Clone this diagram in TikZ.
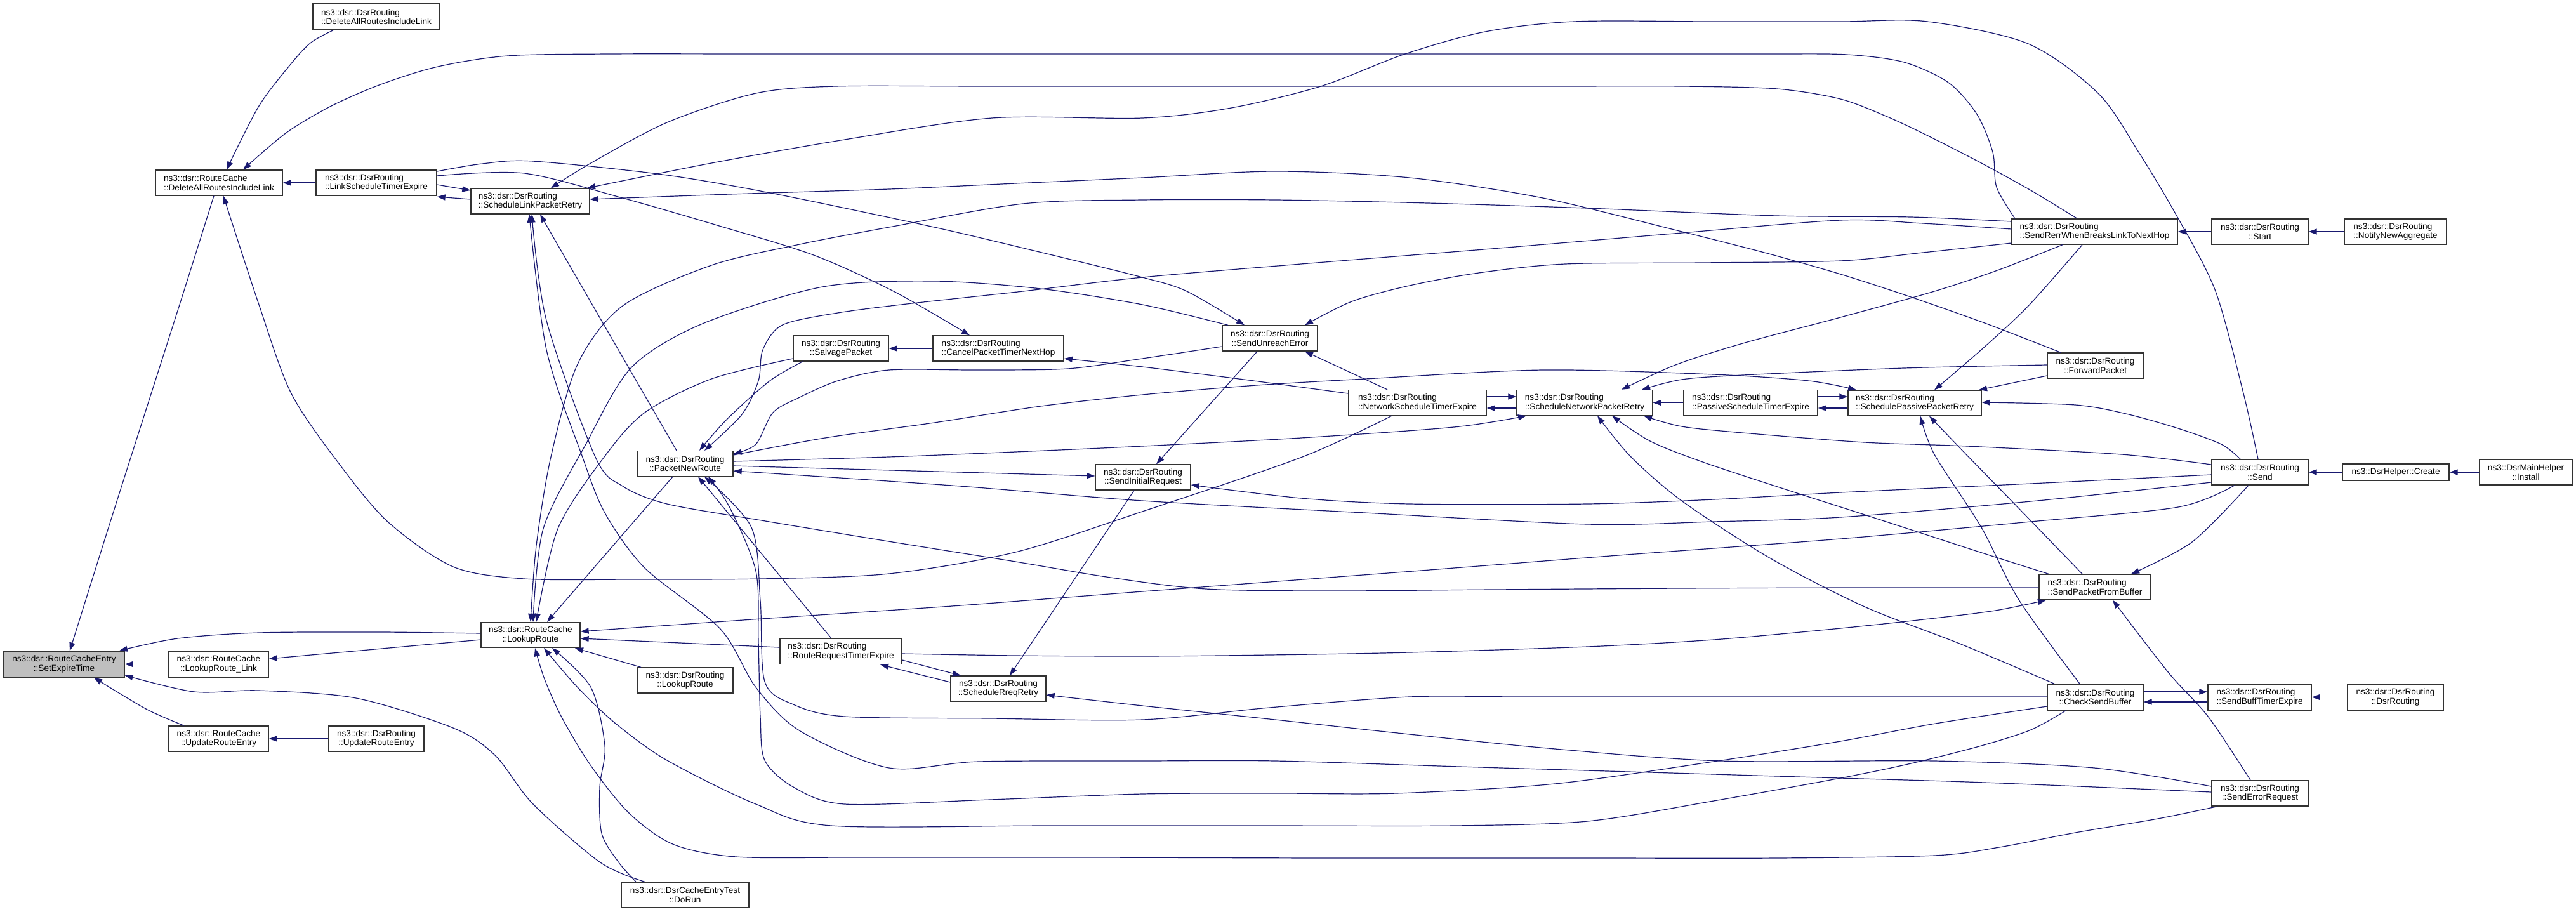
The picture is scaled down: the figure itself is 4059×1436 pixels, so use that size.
\documentclass[tikz,border=0pt]{standalone}
\usepackage{fontspec}
\setmainfont{Liberation Sans}
\usetikzlibrary{arrows.meta}
\definecolor{edgec}{RGB}{25,25,112}
\begin{document}
\begin{tikzpicture}[x=1pt,y=-1pt,
  box/.style={draw=black!80, line width=1.3pt, fill=white, inner sep=0pt,
    font=\fontsize{13.6}{14.7}\selectfont, minimum height=40pt},
  e/.style={draw=edgec, line width=1.2pt, -{Triangle[length=13pt,width=9pt]}},
  sm/.style={smooth, tension=0.5}]
\useasboundingbox[fill=white] (0,0) rectangle (4059,1436);

% nodes
\node[box, fill=gray!50, minimum width=190pt, minimum height=41pt, align=center] (A) at (101,1046.5) {ns3::dsr::RouteCacheEntry\\::SetExpireTime};
\node[box, minimum width=200pt, align=left] (B) at (345,288) {ns3::dsr::RouteCache\\::DeleteAllRoutesIncludeLink};
\node[box, minimum width=157pt, minimum height=41pt, align=center] (C) at (344.5,1046.5) {ns3::dsr::RouteCache\\::LookupRoute\_Link};
\node[box, minimum width=157pt, align=center] (D) at (344.5,1164) {ns3::dsr::RouteCache\\::UpdateRouteEntry};
\node[box, minimum width=200pt, minimum height=41pt, align=left] (E) at (593,26.5) {ns3::dsr::DsrRouting\\::DeleteAllRoutesIncludeLink};
\node[box, minimum width=190pt, align=left] (F) at (593,288) {ns3::dsr::DsrRouting\\::LinkScheduleTimerExpire};
\node[box, minimum width=150pt, align=center] (G) at (593,1164) {ns3::dsr::DsrRouting\\::UpdateRouteEntry};
\node[box, minimum width=187pt, align=left] (H) at (835.5,317) {ns3::dsr::DsrRouting\\::ScheduleLinkPacketRetry};
\node[box, minimum width=156pt, align=center] (I) at (836,1000.5) {ns3::dsr::RouteCache\\::LookupRoute};
\node[box, minimum width=151pt, align=center] (J) at (1079.5,730.5) {ns3::dsr::DsrRouting\\::PacketNewRoute};
\node[box, minimum width=150pt, align=center] (K) at (1325,549) {ns3::dsr::DsrRouting\\::SalvagePacket};
\node[box, minimum width=206pt, align=left] (L) at (1573,549) {ns3::dsr::DsrRouting\\::CancelPacketTimerNextHop};
\node[box, minimum width=151pt, align=center] (M) at (1079.5,1072) {ns3::dsr::DsrRouting\\::LookupRoute};
\node[box, minimum width=192pt, align=left] (N) at (1325,1026.5) {ns3::dsr::DsrRouting\\::RouteRequestTimerExpire};
\node[box, minimum width=150pt, align=center] (O) at (1573,1085) {ns3::dsr::DsrRouting\\::ScheduleRreqRetry};
\node[box, minimum width=201pt, align=center] (P) at (1079.5,1410) {ns3::dsr::DsrCacheEntryTest\\::DoRun};
\node[box, minimum width=150pt, align=center] (Q) at (1801,752) {ns3::dsr::DsrRouting\\::SendInitialRequest};
\node[box, minimum width=150pt, align=center] (R) at (2001,533) {ns3::dsr::DsrRouting\\::SendUnreachError};
\node[box, minimum width=217pt, align=left] (S) at (2233.5,634.5) {ns3::dsr::DsrRouting\\::NetworkScheduleTimerExpire};
\node[box, minimum width=214pt, align=left] (T) at (2497,634.5) {ns3::dsr::DsrRouting\\::ScheduleNetworkPacketRetry};
\node[box, minimum width=211pt, align=left] (U) at (2758.5,634.5) {ns3::dsr::DsrRouting\\::PassiveScheduleTimerExpire};
\node[box, minimum width=210pt, align=left] (V) at (3017,635) {ns3::dsr::DsrRouting\\::SchedulePassivePacketRetry};
\node[box, minimum width=261pt, align=left] (W) at (3300.5,365) {ns3::dsr::DsrRouting\\::SendRerrWhenBreaksLinkToNextHop};
\node[box, minimum width=152pt, align=center] (X) at (3561,365) {ns3::dsr::DsrRouting\\::Start};
\node[box, minimum width=161pt, align=left] (Y) at (3774.5,365) {ns3::dsr::DsrRouting\\::NotifyNewAggregate};
\node[box, minimum width=151pt, align=center] (Z) at (3301.5,576) {ns3::dsr::DsrRouting\\::ForwardPacket};
\node[box, minimum width=152pt, align=center] (AA) at (3561,744) {ns3::dsr::DsrRouting\\::Send};
\node[box, minimum width=168pt, minimum height=26pt] (AB) at (3775,744) {ns3::DsrHelper::Create};
\node[box, minimum width=146pt, align=center] (AC) at (3980,744) {ns3::DsrMainHelper\\::Install};
\node[box, minimum width=176pt, align=left] (AD) at (3301,925) {ns3::dsr::DsrRouting\\::SendPacketFromBuffer};
\node[box, minimum width=151pt, minimum height=41pt, align=center] (AE) at (3301.5,1098.5) {ns3::dsr::DsrRouting\\::CheckSendBuffer};
\node[box, minimum width=163pt, minimum height=41pt, align=left] (AF) at (3560.5,1098.5) {ns3::dsr::DsrRouting\\::SendBuffTimerExpire};
\node[box, minimum width=151pt, minimum height=41pt, align=center] (AG) at (3774.5,1098.5) {ns3::dsr::DsrRouting\\::DsrRouting};
\node[box, minimum width=152pt, align=center] (AH) at (3561,1250) {ns3::dsr::DsrRouting\\::SendErrorRequest};

% straight connectors
\draw[e] (F.west) -- (B.east);
\draw[e] (C.west) -- (A.east);
\draw[e] (G.west) -- (D.east);
\draw[e] (I.west |- 0,1008) -- (C.east |- 0,1038);
\draw[e] (H.west |- 0,314) -- (F.east |- 0,310);
\draw[e] (F.east |- 0,291) -- (H.west |- 0,300);
\draw[e] (J.north -| 1066,0) -- (H.south -| 851,0);
\draw[e] (J.south -| 1060,0) -- (I.north -| 862,0);
\draw[e] (N.west |- 0,1020) -- (I.east |- 0,1006);
\draw[e] (M.north -| 1010,0) -- (I.south -| 906,0);
\draw[e] (N.north -| 1310,0) -- (J.south -| 1100,0);
\draw[e] (J.east |- 0,734) -- (Q.west |- 0,750);
\draw[e] (L.west) -- (K.east);
\draw[e] (S.north -| 2186,0) -- (R.south -| 2056,0);
\draw[e] (R.south -| 1981,0) -- (Q.north -| 1822,0);
\draw[e] (Q.south -| 1787,0) -- (O.north -| 1591,0);
\draw[e] (N.east |- 0,1040) -- (O.north -| 1514,0);
\draw[e] (O.west |- 0,1075) -- (N.south -| 1387,0);
\draw[e] (S.east |- 0,625) -- (T.west |- 0,625);
\draw[e] (T.west |- 0,643) -- (S.east |- 0,643);
\draw[e] (U.west) -- (T.east);
\draw[e] (U.east |- 0,625) -- (V.west |- 0,625);
\draw[e] (V.west |- 0,643) -- (U.east |- 0,643);
\draw[e] (X.west) -- (W.east);
\draw[e] (Y.west) -- (X.east);
\draw[e] (AB.west) -- (AA.east);
\draw[e] (AC.west) -- (AB.east);
\draw[e] (AE.east |- 0,1090) -- (AF.west |- 0,1090);
\draw[e] (AF.west |- 0,1106) -- (AE.east |- 0,1106);
\draw[e] (AG.west) -- (AF.east);
\draw[e] (Z.west |- 0,592) -- (V.north -| 3118,0);

% curved connectors
\draw[e] plot[sm] coordinates {(B.south -| 337,0) (283,480) (184,790) (A.north -| 110,0)};
\draw[e] plot[sm] coordinates {(E.south -| 525,0) (490,67) (459,100) (408,167) (B.north -| 357,0)};
\draw[e] plot[sm] coordinates {(W.north -| 3175,0) (3146,295) (3140,240) (3115,180) (3070,130) (3000,98) (2910,86) (2790,85) (2630,85) (2400,85) (2100,85) (1800,85) (1500,85) (1200,85) (960,85) (800,88) (690,105) (600,133) (520,168) (450,210) (B.north -| 383,0)};
\draw[e] plot[sm] coordinates {(S.south -| 2193,0) (2052,720) (1800,806) (1600,870) (1401,904) (1200,912) (1000,913) (826,912) (714,893) (612,823) (536,733) (459,620) (408,480) (B.south -| 352,0)};
\draw[e] plot[sm] coordinates {(I.west |- 0,998) (600,996) (408,997) (280,1006) (A.north -| 188,0)};
\draw[e] plot[sm] coordinates {(D.north -| 290,0) (230,1117) (A.south -| 148,0)};
\draw[e] plot[sm] coordinates {(P.north -| 1016,0) (946,1359) (840,1267) (780,1190) (714,1147) (561,1100) (408,1088) (306,1090) (A.east |- 0,1064)};
\draw[e] plot[sm] coordinates {(W.north -| 3273,0) (3200,300) (3122,257) (3040,215) (2974,184) (2900,156) (2800,140) (2650,136) (2450,136) (2150,136) (1850,136) (1550,136) (1317,136) (1191,147) (1051,193) (931,257) (H.north -| 868,0)};
\draw[e] plot[sm] coordinates {(AA.north -| 3558,0) (3535,620) (3491,459) (3432,344) (3370,240) (3306,147) (3196,69) (3037,34) (2900,34) (2700,34) (2480,34) (2340,50) (2214,85) (2081,136) (1940,170) (1800,186) (1563,186) (1331,220) (1121,257) (H.north -| 925,0)};
\draw[e] plot[sm] coordinates {(Z.north -| 3247,0) (3130,510) (3011,468) (2900,432) (2780,398) (2642,363) (2431,312) (2221,280) (2010,270) (1800,280) (1600,289) (1401,298) (1150,306) (H.east |- 0,314)};
\draw[e] plot[sm] coordinates {(AD.west |- 0,926) (3050,926) (2900,926) (2650,927) (2350,929) (2100,931) (1900,928) (1750,910) (1600,885) (1400,853) (1200,820) (1051,794) (981,766) (938,720) (861,505) (H.south -| 838,0)};
\draw[e] plot[sm] coordinates {(AH.west |- 0,1248) (3300,1240) (3100,1232) (2900,1226) (2600,1217) (2300,1208) (2010,1199) (1800,1199) (1542,1200) (1401,1210) (1261,1152) (1191,1083) (1135,991) (1016,895) (953,808) (917,718) (861,551) (H.south -| 834,0)};
\draw[e] plot[sm] coordinates {(AH.west |- 0,1239) (3300,1210) (3048,1199) (2712,1199) (2450,1180) (2221,1157) (2000,1133) (1800,1112) (O.east |- 0,1095)};
\draw[e] plot[sm] coordinates {(W.west |- 0,349) (3011,342) (2800,340) (2501,328) (2250,320) (2010,315) (1800,315) (1612,321) (1401,358) (1260,385) (1121,418) (981,482) (910,574) (868,720) (845,860) (I.north -| 836,0)};
\draw[e] plot[sm] coordinates {(R.north -| 1935,0) (1800,480) (1640,455) (1472,443) (1296,452) (1107,510) (995,579) (923,700) (856,833) (I.north -| 840,0)};
\draw[e] plot[sm] coordinates {(K.west |- 0,565) (1121,597) (1016,650) (952,720) (879,833) (I.north -| 845,0)};
\draw[e] plot[sm] coordinates {(AA.south -| 3521,0) (3432,799) (3200,822) (2900,849) (2550,875) (2200,902) (1800,932) (1500,955) (1200,975) (I.east |- 0,995)};
\draw[e] plot[sm] coordinates {(AH.south -| 3494,0) (3400,1290) (3270,1312) (3150,1335) (3048,1348) (2800,1352) (2500,1352) (2100,1352) (1700,1351) (1350,1351) (1160,1350) (1060,1330) (990,1280) (930,1205) (885,1130) (858,1070) (I.south -| 843,0)};
\draw[e] plot[sm] coordinates {(AE.south -| 3255,0) (3200,1150) (3122,1175) (3011,1203) (2900,1226) (2700,1262) (2501,1294) (2291,1301) (2000,1301) (1650,1301) (1310,1301) (1191,1267) (1051,1198) (970,1140) (910,1083) (I.south -| 857,0)};
\draw[e] plot[sm] coordinates {(P.north -| 1002,0) (975,1359) (948,1313) (945,1240) (953,1175) (931,1083) (I.south -| 870,0)};
\draw[e] plot[sm] coordinates {(W.west |- 0,361) (3030,352) (2900,347) (2650,367) (2350,392) (2050,416) (1800,437) (1612,459) (1437,478) (1320,493) (1233,512) (1202,551) (1195,600) (1169,653) (J.north -| 1110,0)};
\draw[e] plot[sm] coordinates {(K.south -| 1265,0) (1213,600) (1146,660) (J.north -| 1102,0)};
\draw[e] plot[sm] coordinates {(R.west |- 0,546) (1800,565) (1682,581) (1540,583) (1401,583) (1320,600) (1258,627) (1218,650) (1191,700) (J.east |- 0,715)};
\draw[e] plot[sm] coordinates {(AE.west |- 0,1098) (3000,1098) (2700,1098) (2400,1098) (2221,1098) (2000,1115) (1800,1134) (1560,1132) (1331,1129) (1250,1110) (1205,1074) (1198,946) (1184,831) (J.south -| 1110,0)};
\draw[e] plot[sm] coordinates {(AE.west |- 0,1113) (3050,1140) (2900,1168) (2700,1200) (2450,1235) (2200,1250) (2010,1250) (1800,1251) (1560,1260) (1331,1267) (1250,1240) (1205,1198) (1198,1129) (1195,1010) (1191,900) (1150,800) (J.south -| 1116,0)};
\draw[e] plot[sm] coordinates {(AA.west |- 0,760) (3200,790) (2900,815) (2700,822) (2501,826) (2150,808) (1800,789) (1500,765) (J.east |- 0,742)};
\draw[e] plot[sm] coordinates {(J.east |- 0,727) (1400,720) (1600,712) (1800,703) (2050,690) (2291,673) (T.south -| 2405,0)};
\draw[e] plot[sm] coordinates {(J.east |- 0,717) (1300,690) (1472,666) (1640,640) (1800,622) (1980,607) (2151,597) (2431,583) (2700,590) (2850,600) (V.north -| 2925,0)};
\draw[e] plot[sm] coordinates {(F.east |- 0,277) (826,273) (981,312) (1130,355) (1282,402) (1410,460) (L.north -| 1528,0)};
\draw[e] plot[sm] coordinates {(S.west |- 0,620) (1960,598) (1800,578) (L.east |- 0,565)};
\draw[e] plot[sm] coordinates {(F.east |- 0,270) (760,258) (840,254) (1044,275) (1219,305) (1472,358) (1650,400) (1800,437) (1870,459) (R.north -| 1961,0)};
\draw[e] plot[sm] coordinates {(W.west |- 0,383) (3030,398) (2900,411) (2680,414) (2466,416) (2330,430) (2221,450) (2130,475) (R.north -| 2056,0)};
\draw[e] plot[sm] coordinates {(AA.west |- 0,748) (3200,762) (2900,776) (2700,787) (2501,794) (2221,794) (2050,785) (Q.east |- 0,764)};
\draw[e] plot[sm] coordinates {(N.east |- 0,1030) (1600,1033) (1800,1034) (2000,1032) (2221,1028) (2501,1019) (2700,1008) (2900,990) (3040,975) (3144,962) (AD.south -| 3224,0)};
\draw[e] plot[sm] coordinates {(W.south -| 3250,0) (3150,425) (3048,459) (2900,500) (2746,541) (2640,575) (T.north -| 2555,0)};
\draw[e] plot[sm] coordinates {(Z.west |- 0,575) (3000,580) (2746,591) (2650,598) (T.north -| 2587,0)};
\draw[e] plot[sm] coordinates {(AE.north -| 3237,0) (3090,1015) (2938,956) (2790,880) (2651,790) (2570,720) (T.south -| 2517,0)};
\draw[e] plot[sm] coordinates {(AD.north -| 3228,0) (3129,873) (2938,811) (2810,770) (2683,728) (2600,695) (T.south -| 2540,0)};
\draw[e] plot[sm] coordinates {(AA.west |- 0,732) (3343,716) (3100,703) (2938,697) (2746,682) (2650,672) (T.south -| 2590,0)};
\draw[e] plot[sm] coordinates {(W.south -| 3281,0) (3196,482) (3122,551) (V.north -| 3048,0)};
\draw[e] plot[sm] coordinates {(AA.north -| 3530,0) (3500,700) (3432,675) (3350,652) (3270,638) (V.east |- 0,634)};
\draw[e] plot[sm] coordinates {(AD.north -| 3281,0) (3180,800) (3100,718) (V.south -| 3040,0)};
\draw[e] plot[sm] coordinates {(AE.north -| 3277,0) (3181,945) (3122,831) (3048,716) (V.south -| 3026,0)};
\draw[e] plot[sm] coordinates {(AA.south -| 3543,0) (3454,854) (AD.north -| 3358,0)};
\draw[e] plot[sm] coordinates {(AH.north -| 3546,0) (3480,1130) (3417,1060) (AD.south -| 3329,0)};
\end{tikzpicture}
\end{document}
